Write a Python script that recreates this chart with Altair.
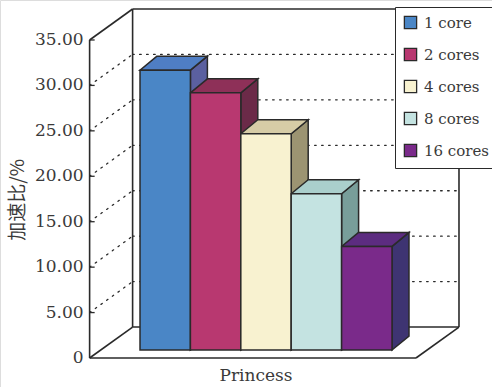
import altair as alt
import pandas as pd

# ---- data -------------------------------------------------------------
categories = ["1 core", "2 cores", "4 cores", "8 cores", "16 cores"]
speedup = [30.8, 28.3, 23.8, 17.2, 11.4]
group_label = "Princess"
y_title = "加速比/%"
y_ticks = [0, 5, 10, 15, 20, 25, 30, 35]
y_tick_labels = ["0", "5.00", "10.00", "15.00", "20.00", "25.00", "30.00", "35.00"]

front_colors = ["#4A86C6", "#B83870", "#F8F2D0", "#C4E3E1", "#7A2A8A"]
top_colors = ["#4F7EC4", "#8E3058", "#D6CCA6", "#AACFCC", "#5C2C80"]
side_colors = ["#5B60A0", "#6B2A48", "#9C9472", "#789E9A", "#3E3472"]

SERIF = "DejaVu Serif"
TEXT = "#3a3a3a"

# ---- 3-D box geometry (x in bar widths, y in value units) ----------------
X_DOMAIN = [-2.778, 6.984]
Y_DOMAIN = [-3.19, 39.40]
FRONT_X = -1.0          # front edge of the left wall / value axis
FLOOR_RIGHT = 5.476     # front-right corner of the floor
WALL_DX, WALL_DY = 0.853, 3.41   # depth of the whole box
BAR_BASE = 0.88         # bars stand a little behind the front edge
BAR_DX, BAR_DY = 0.337, 1.54     # depth of each bar
Y_MAX = 35

xs = alt.Scale(domain=X_DOMAIN, nice=False, zero=False)
ys = alt.Scale(domain=Y_DOMAIN, nice=False, zero=False)
INK = "#2a2a2a"

# bar faces
fronts, tops, sides = [], [], []
for i, (c, v) in enumerate(zip(categories, speedup)):
    fronts.append(dict(cat=c, x=i, x2=i + 1, y=BAR_BASE, y2=BAR_BASE + v))
    tops.append(dict(cat=c, col=top_colors[i], y=BAR_BASE + v, x=i, x2=i + 1))
    tops.append(dict(cat=c, col=top_colors[i], y=BAR_BASE + v + BAR_DY,
                     x=i + BAR_DX, x2=i + 1 + BAR_DX))
    sides.append(dict(cat=c, col=side_colors[i], x=i + 1, y=BAR_BASE, y2=BAR_BASE + v))
    sides.append(dict(cat=c, col=side_colors[i], x=i + 1 + BAR_DX,
                      y=BAR_BASE + BAR_DY, y2=BAR_BASE + v + BAR_DY))

# solid frame edges of the box
bx0, bx1 = FRONT_X + WALL_DX, FLOOR_RIGHT + WALL_DX
frame = pd.DataFrame([
    dict(x=FRONT_X, y=0, x2=FRONT_X, y2=Y_MAX),                       # value axis
    dict(x=FRONT_X, y=Y_MAX, x2=bx0, y2=Y_MAX + WALL_DY),             # left wall top
    dict(x=FRONT_X, y=0, x2=bx0, y2=WALL_DY),                         # left wall bottom
    dict(x=bx0, y=WALL_DY, x2=bx0, y2=Y_MAX + WALL_DY),               # back wall left
    dict(x=bx0, y=Y_MAX + WALL_DY, x2=bx1, y2=Y_MAX + WALL_DY),       # back wall top
    dict(x=bx1, y=WALL_DY, x2=bx1, y2=Y_MAX + WALL_DY),               # back wall right
    dict(x=bx0, y=WALL_DY, x2=bx1, y2=WALL_DY),                       # back wall bottom
    dict(x=FRONT_X, y=0, x2=FLOOR_RIGHT, y2=0),                       # floor front
    dict(x=FLOOR_RIGHT, y=0, x2=bx1, y2=WALL_DY),                     # floor right
])

# dotted gridlines: diagonal on the left wall, horizontal on the back wall
grid_rows = []
for t in y_ticks[1:-1]:
    grid_rows.append(dict(x=FRONT_X, y=t, x2=bx0, y2=t + WALL_DY))
    grid_rows.append(dict(x=bx0, y=t + WALL_DY, x2=bx1, y2=t + WALL_DY))
grid = pd.DataFrame(grid_rows)

# short inward ticks on the value axis
tick_rows = [dict(x=FRONT_X, y=t, x2=FRONT_X + 0.1, y2=t) for t in y_ticks[1:]]
tick_marks = pd.DataFrame(tick_rows)

ticks = pd.DataFrame(dict(v=y_ticks, label=y_tick_labels))


def seg_layer(df, **mark_kw):
    return alt.Chart(df).mark_rule(**mark_kw).encode(
        x=alt.X("x:Q", scale=xs, axis=None), y=alt.Y("y:Q", scale=ys, axis=None),
        x2="x2:Q", y2="y2:Q",
    )


grid_layer = seg_layer(grid, color=INK, strokeWidth=1.3, strokeDash=[1.6, 5.4],
                       strokeCap="round")
frame_layer = seg_layer(frame, color=INK, strokeWidth=1.6)
tick_layer = seg_layer(tick_marks, color=INK, strokeWidth=1.3)

side_layer = alt.Chart(pd.DataFrame(sides)).mark_area(
    orient="vertical", stroke=INK, strokeWidth=1.5, opacity=1, fillOpacity=1,
    strokeJoin="miter",
).encode(
    x=alt.X("x:Q", scale=xs, axis=None),
    y=alt.Y("y:Q", scale=ys, axis=None, stack=None),
    y2="y2:Q",
    fill=alt.Fill("col:N", scale=None),
    detail="cat:N",
)

top_layer = alt.Chart(pd.DataFrame(tops)).mark_area(
    orient="horizontal", stroke=INK, strokeWidth=1.5, opacity=1, fillOpacity=1,
    strokeJoin="miter",
).encode(
    y=alt.Y("y:Q", scale=ys, axis=None),
    x=alt.X("x:Q", scale=xs, axis=None, stack=None),
    x2="x2:Q",
    fill=alt.Fill("col:N", scale=None),
    detail="cat:N",
)

front_layer = alt.Chart(pd.DataFrame(fronts)).mark_rect(
    stroke=INK, strokeWidth=1.5, strokeJoin="miter"
).encode(
    x=alt.X("x:Q", scale=xs, axis=None), x2="x2:Q",
    y=alt.Y("y:Q", scale=ys, axis=None), y2="y2:Q",
    fill=alt.Fill(
        "cat:N",
        scale=alt.Scale(domain=categories, range=front_colors),
        sort=categories,
        legend=alt.Legend(
            title=None, orient="none", legendX=395, legendY=7,
            direction="vertical", symbolType="square", symbolSize=150,
            symbolStrokeColor=INK, symbolStrokeWidth=1.3, symbolOpacity=1,
            labelFont=SERIF, labelFontSize=15, labelColor=TEXT,
            labelLimit=300, labelOffset=6, rowPadding=13, padding=8,
            fillColor="white", strokeColor=INK,
        ),
    ),
)

tick_label_layer = alt.Chart(ticks).mark_text(
    align="right", baseline="middle", font=SERIF, fontSize=17,
    color=TEXT, dx=-6,
).encode(
    x=alt.X("xv:Q", scale=xs, axis=None),
    y=alt.Y("v:Q", scale=ys, axis=None),
    text="label:N",
).transform_calculate(xv=str(FRONT_X))

x_title_layer = alt.Chart(pd.DataFrame([dict(x=2.30, y=-2.0, text=group_label)])).mark_text(
    font=SERIF, fontSize=17, color=TEXT, baseline="middle"
).encode(
    x=alt.X("x:Q", scale=xs, axis=None), y=alt.Y("y:Q", scale=ys, axis=None),
    text="text:N",
)

y_title_layer = alt.Chart(pd.DataFrame([dict(x=-2.42, y=17.4, text=y_title)])).mark_text(
    font="Noto Sans CJK SC", fontSize=19, color=TEXT, angle=270,
    baseline="middle", align="center",
).encode(
    x=alt.X("x:Q", scale=xs, axis=None), y=alt.Y("y:Q", scale=ys, axis=None),
    text="text:N",
)

chart = alt.layer(
    grid_layer, frame_layer, tick_layer, side_layer, top_layer, front_layer,
    tick_label_layer, x_title_layer, y_title_layer,
).properties(
    width=492, height=387, padding=0,
    autosize=alt.AutoSizeParams(type="none"),
).configure_view(stroke=None).configure(background="white")

chart.save("out.html", embed_options={"renderer": "svg", "actions": False})
